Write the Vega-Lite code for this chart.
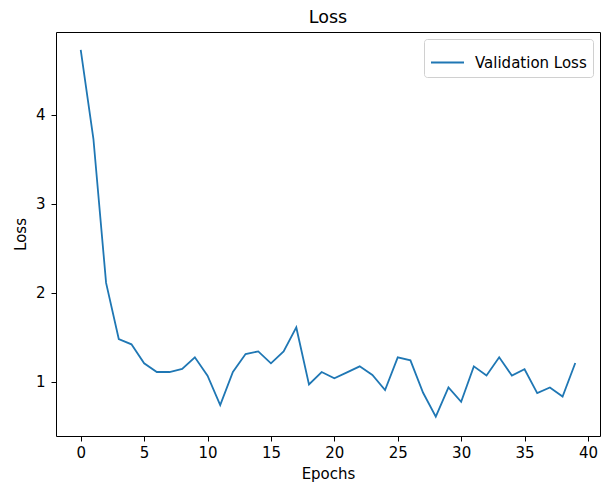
{
  "$schema": "https://vega.github.io/schema/vega-lite/v6.json",
  "width": 544,
  "height": 404,
  "autosize": {"type": "none"},
  "padding": {"left": 56, "top": 32, "right": 9, "bottom": 49},
  "background": "white",
  "title": {"text": "Loss", "font": "DejaVu Sans", "fontSize": 17.5, "fontWeight": "normal", "color": "black", "offset": 6},
  "data": {"values": [
    {"epoch": 0, "loss": 4.73, "series": "Validation Loss"},
    {"epoch": 1, "loss": 3.73, "series": "Validation Loss"},
    {"epoch": 2, "loss": 2.11, "series": "Validation Loss"},
    {"epoch": 3, "loss": 1.48, "series": "Validation Loss"},
    {"epoch": 4, "loss": 1.42, "series": "Validation Loss"},
    {"epoch": 5, "loss": 1.207, "series": "Validation Loss"},
    {"epoch": 6, "loss": 1.109, "series": "Validation Loss"},
    {"epoch": 7, "loss": 1.109, "series": "Validation Loss"},
    {"epoch": 8, "loss": 1.143, "series": "Validation Loss"},
    {"epoch": 9, "loss": 1.274, "series": "Validation Loss"},
    {"epoch": 10, "loss": 1.067, "series": "Validation Loss"},
    {"epoch": 11, "loss": 0.738, "series": "Validation Loss"},
    {"epoch": 12, "loss": 1.109, "series": "Validation Loss"},
    {"epoch": 13, "loss": 1.311, "series": "Validation Loss"},
    {"epoch": 14, "loss": 1.341, "series": "Validation Loss"},
    {"epoch": 15, "loss": 1.207, "series": "Validation Loss"},
    {"epoch": 16, "loss": 1.34, "series": "Validation Loss"},
    {"epoch": 17, "loss": 1.61, "series": "Validation Loss"},
    {"epoch": 18, "loss": 0.97, "series": "Validation Loss"},
    {"epoch": 19, "loss": 1.109, "series": "Validation Loss"},
    {"epoch": 20, "loss": 1.038, "series": "Validation Loss"},
    {"epoch": 21, "loss": 1.105, "series": "Validation Loss"},
    {"epoch": 22, "loss": 1.173, "series": "Validation Loss"},
    {"epoch": 23, "loss": 1.075, "series": "Validation Loss"},
    {"epoch": 24, "loss": 0.906, "series": "Validation Loss"},
    {"epoch": 25, "loss": 1.274, "series": "Validation Loss"},
    {"epoch": 26, "loss": 1.24, "series": "Validation Loss"},
    {"epoch": 27, "loss": 0.876, "series": "Validation Loss"},
    {"epoch": 28, "loss": 0.607, "series": "Validation Loss"},
    {"epoch": 29, "loss": 0.936, "series": "Validation Loss"},
    {"epoch": 30, "loss": 0.775, "series": "Validation Loss"},
    {"epoch": 31, "loss": 1.173, "series": "Validation Loss"},
    {"epoch": 32, "loss": 1.07, "series": "Validation Loss"},
    {"epoch": 33, "loss": 1.274, "series": "Validation Loss"},
    {"epoch": 34, "loss": 1.07, "series": "Validation Loss"},
    {"epoch": 35, "loss": 1.14, "series": "Validation Loss"},
    {"epoch": 36, "loss": 0.872, "series": "Validation Loss"},
    {"epoch": 37, "loss": 0.936, "series": "Validation Loss"},
    {"epoch": 38, "loss": 0.834, "series": "Validation Loss"},
    {"epoch": 39, "loss": 1.21, "series": "Validation Loss"}
  ]},
  "mark": {"type": "line", "strokeWidth": 1.8},
  "encoding": {
    "x": {
      "field": "epoch", "type": "quantitative",
      "scale": {"domain": [-1.95, 40.95], "nice": false, "zero": false},
      "axis": {"values": [0, 5, 10, 15, 20, 25, 30, 35, 40], "title": "Epochs", "grid": false}
    },
    "y": {
      "field": "loss", "type": "quantitative",
      "scale": {"domain": [0.39, 4.93], "nice": false, "zero": false},
      "axis": {"values": [1, 2, 3, 4], "title": "Loss", "grid": false}
    },
    "color": {
      "field": "series", "type": "nominal",
      "scale": {"range": ["#1f77b4"]},
      "legend": {
        "title": null, "orient": "none", "legendX": 368, "legendY": 7,
        "symbolType": "stroke", "symbolSize": 1089, "symbolStrokeWidth": 1.8,
        "labelFont": "DejaVu Sans", "labelFontSize": 15, "labelColor": "black", "labelOffset": 10,
        "padding": 6, "strokeColor": "#d0d0d0", "fillColor": "white", "cornerRadius": 3
      }
    }
  },
  "config": {
    "view": {"stroke": "black", "strokeWidth": 1},
    "axis": {
      "domain": false,
      "tickColor": "black", "tickSize": 5, "tickWidth": 1,
      "labelFont": "DejaVu Sans", "labelFontSize": 15, "labelColor": "black", "labelPadding": 4,
      "titleFont": "DejaVu Sans", "titleFontSize": 15, "titleFontWeight": "normal", "titleColor": "black"
    },
    "axisX": {"titlePadding": 6},
    "axisY": {"labelPadding": 6, "titlePadding": 7}
  }
}
